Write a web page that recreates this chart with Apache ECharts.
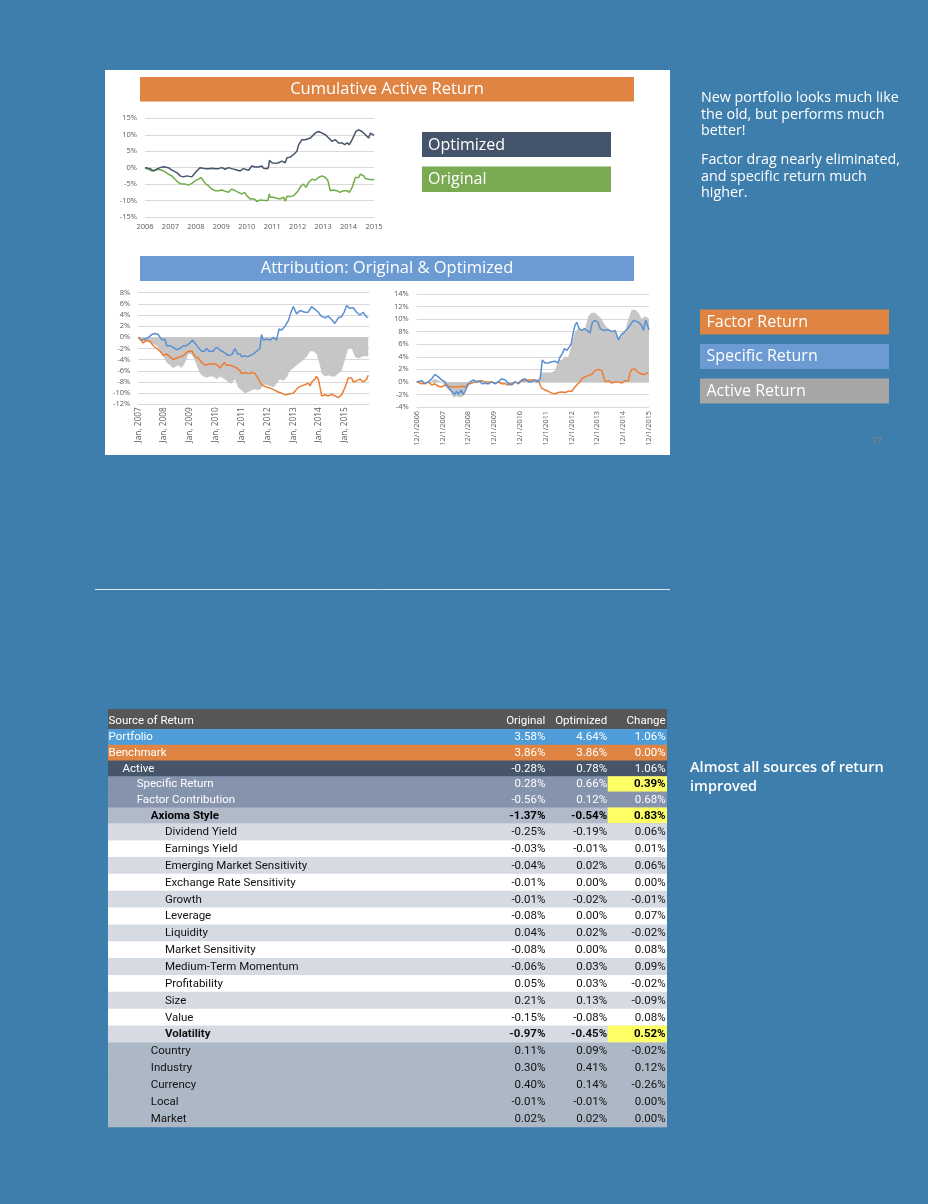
<!DOCTYPE html>
<html><head><meta charset="utf-8">
<script src="https://cdn.jsdelivr.net/npm/echarts/dist/echarts.min.js"></script>
<style>html,body{margin:0;padding:0;background:#3d7ead;}#c{width:928px;height:1204px;}</style>
</head><body><div id="c"></div>
<script>
// ---------- DATA ----------
// Cumulative active return (x = decimal year, y = %)
const cumOptimized = [[2006.00,0],[2006.07,0.3],[2006.20,-0.3],[2006.33,-1],[2006.46,-0.5],[2006.59,0],[2006.72,0.3],[2006.79,0],[2006.92,0],[2007.01,-0.5],[2007.12,-1],[2007.25,-1.5],[2007.38,-2.5],[2007.51,-2.8],[2007.64,-2.5],[2007.71,-2.3],[2007.84,-2.8],[2007.90,-2.5],[2008.03,-1],[2008.17,0],[2008.36,-0.3],[2008.49,-0.3],[2008.62,-0.2],[2008.76,-0.3],[2008.89,-0.3],[2009.02,0],[2009.15,-0.5],[2009.28,0],[2009.41,-0.3],[2009.61,-0.7],[2009.74,-1],[2009.87,-0.3],[2009.94,-0.5],[2010.07,-0.8],[2010.20,0.5],[2010.33,0.2],[2010.46,0.2],[2010.59,0.5],[2010.66,-0.2],[2010.72,-0.5],[2010.82,-0.3],[2010.86,0.5],[2010.89,2.2],[2010.99,1.5],[2011.12,1.3],[2011.25,1.5],[2011.38,2],[2011.51,1.5],[2011.58,3],[2011.71,3.2],[2011.84,4],[2011.97,5],[2012.04,7],[2012.17,8.5],[2012.30,8.5],[2012.36,9],[2012.50,9],[2012.56,8.5],[2012.69,10.5],[2012.82,11],[2012.96,10.5],[2013.09,10],[2013.22,9],[2013.35,8],[2013.48,8.5],[2013.61,7.5],[2013.74,7.5],[2013.85,7],[2013.94,7.5],[2014.03,7],[2014.14,8.5],[2014.20,9.5],[2014.29,11],[2014.40,11.5],[2014.53,11],[2014.66,10],[2014.79,9],[2014.86,10.5],[2014.92,10.3],[2015.00,9.8]];
const cumOriginal = [[2006.00,0],[2006.13,-0.5],[2006.26,-1],[2006.39,-0.8],[2006.52,-0.5],[2006.66,-0.8],[2006.79,-1.3],[2006.92,-2],[2007.05,-2.5],[2007.18,-3.5],[2007.31,-4.5],[2007.44,-5],[2007.51,-5.3],[2007.57,-5],[2007.71,-5.3],[2007.84,-4.8],[2007.97,-4],[2008.10,-3.5],[2008.20,-3],[2008.30,-4],[2008.39,-5],[2008.49,-5.5],[2008.62,-6.5],[2008.76,-7],[2008.89,-7],[2008.95,-7.5],[2009.02,-6.8],[2009.15,-7.2],[2009.28,-7.5],[2009.41,-6.5],[2009.48,-6],[2009.54,-7],[2009.67,-7.5],[2009.81,-8],[2009.91,-7.5],[2010.00,-8.5],[2010.13,-9.5],[2010.20,-10],[2010.30,-9.5],[2010.40,-10.3],[2010.53,-9.8],[2010.59,-9.5],[2010.72,-10],[2010.83,-10],[2010.88,-8],[2010.92,-9],[2011.05,-9],[2011.18,-9.3],[2011.31,-9.5],[2011.45,-9],[2011.51,-10.2],[2011.58,-8.7],[2011.71,-8.8],[2011.84,-8.5],[2011.97,-7.5],[2012.04,-7],[2012.14,-5.5],[2012.23,-5],[2012.33,-6],[2012.43,-4.5],[2012.56,-3.5],[2012.69,-3.8],[2012.82,-3],[2012.96,-2.5],[2013.09,-3],[2013.19,-4],[2013.28,-7],[2013.41,-6.8],[2013.54,-7],[2013.67,-7.5],[2013.81,-7],[2013.94,-7],[2014.03,-7.5],[2014.14,-6],[2014.20,-5.5],[2014.27,-3],[2014.40,-3],[2014.46,-2],[2014.60,-2.5],[2014.66,-3.3],[2014.79,-3.5],[2014.86,-4],[2014.96,-3.7],[2015.00,-3.5]];
const cumYTicks = [-15, -10, -5, 0, 5, 10, 15];
const cumYears = [2006, 2015];

// Attribution, original portfolio (x = decimal year from Jan 2007, y = %)
const origSpecific = [[2007.00,0],[2007.06,0],[2007.13,-0.5],[2007.26,-0.3],[2007.39,0],[2007.52,0.5],[2007.65,0.7],[2007.77,0.5],[2007.84,0],[2007.93,-0.5],[2008.03,-0.3],[2008.10,-1.5],[2008.23,-1.5],[2008.35,-1.8],[2008.48,-2.2],[2008.61,-2],[2008.74,-1.5],[2008.87,-1.5],[2009.00,-1],[2009.09,-0.5],[2009.19,-1],[2009.32,-1.8],[2009.45,-2.5],[2009.55,-2.5],[2009.65,-2],[2009.74,-2.5],[2009.81,-2.2],[2009.90,-2.5],[2009.97,-2],[2010.07,-1.8],[2010.16,-2.3],[2010.25,-2.5],[2010.35,-2.8],[2010.46,-3.2],[2010.55,-3.2],[2010.64,-3],[2010.74,-2],[2010.85,-3],[2010.94,-3],[2011.00,-3.5],[2011.13,-3.3],[2011.23,-3.5],[2011.35,-3.2],[2011.45,-3],[2011.58,-2.5],[2011.65,-2.3],[2011.71,-2],[2011.77,0.5],[2011.84,-0.5],[2011.97,-0.3],[2012.10,-0.5],[2012.23,0],[2012.29,0],[2012.35,-0.5],[2012.45,1.5],[2012.55,1.3],[2012.68,2],[2012.81,3],[2012.91,4.5],[2013.00,5.5],[2013.13,4.2],[2013.26,4.8],[2013.32,4.5],[2013.45,4.5],[2013.58,4.5],[2013.71,5.5],[2013.84,5],[2013.97,4.5],[2014.08,3.8],[2014.23,3.5],[2014.35,3.8],[2014.48,3.2],[2014.61,2.5],[2014.74,3.5],[2014.87,3.7],[2014.97,4.5],[2015.06,5.7],[2015.19,5.2],[2015.32,5.3],[2015.45,4.5],[2015.58,4],[2015.65,3.7],[2015.71,4.5],[2015.77,4],[2015.88,3.5]];
const origFactor = [[2007.00,0],[2007.06,-0.3],[2007.19,-1],[2007.32,-0.5],[2007.45,-0.7],[2007.58,-1.5],[2007.71,-2],[2007.84,-2.5],[2007.97,-3.2],[2008.10,-3],[2008.23,-3.5],[2008.35,-4],[2008.48,-3.7],[2008.61,-3.5],[2008.74,-3.3],[2008.87,-2.7],[2008.96,-2.5],[2009.09,-2.5],[2009.19,-3.5],[2009.32,-3.7],[2009.45,-4.5],[2009.58,-5],[2009.71,-4.8],[2009.84,-4.8],[2009.97,-4.8],[2010.07,-5],[2010.16,-5.5],[2010.23,-5.7],[2010.33,-4.5],[2010.42,-5],[2010.55,-5],[2010.68,-5.2],[2010.81,-5.5],[2010.94,-6],[2011.00,-6.5],[2011.13,-6.3],[2011.26,-6.5],[2011.39,-6.3],[2011.52,-6.5],[2011.65,-7.5],[2011.77,-8.5],[2011.90,-8.8],[2012.03,-9],[2012.16,-9.2],[2012.29,-9.5],[2012.42,-9.8],[2012.55,-10],[2012.68,-10.3],[2012.81,-10.2],[2012.87,-10.4],[2013.00,-10],[2013.06,-10.3],[2013.19,-9],[2013.32,-8.7],[2013.45,-8.5],[2013.58,-8.2],[2013.65,-8.7],[2013.71,-8],[2013.84,-7.5],[2013.90,-7],[2013.97,-7.5],[2014.10,-10.5],[2014.23,-10.3],[2014.35,-10.5],[2014.48,-10.2],[2014.61,-10.5],[2014.74,-10.8],[2014.81,-11],[2014.87,-10.3],[2015.00,-9],[2015.13,-7.3],[2015.26,-7.3],[2015.32,-8],[2015.45,-7.8],[2015.58,-7.5],[2015.71,-8],[2015.84,-7.5],[2015.90,-6.8]];
const origActive = [[2007.00,0],[2007.13,-0.5],[2007.32,-0.8],[2007.52,-1],[2007.71,-1.5],[2007.84,-2.5],[2007.97,-3.5],[2008.10,-4.5],[2008.23,-5],[2008.35,-5.5],[2008.42,-5.3],[2008.55,-5],[2008.68,-5.5],[2008.81,-4.5],[2008.94,-3],[2009.04,-3],[2009.13,-3.5],[2009.26,-5],[2009.39,-6.5],[2009.52,-7],[2009.65,-7.2],[2009.77,-7],[2009.90,-7],[2010.03,-7.5],[2010.16,-7],[2010.23,-6.8],[2010.35,-7.5],[2010.48,-8],[2010.61,-8.3],[2010.74,-7.5],[2010.87,-9],[2011.00,-9.5],[2011.13,-10],[2011.26,-9.8],[2011.39,-9.5],[2011.52,-9.3],[2011.65,-9.5],[2011.75,-9.2],[2011.84,-8.5],[2011.97,-8.5],[2012.10,-8.7],[2012.23,-9],[2012.35,-8.3],[2012.48,-7.5],[2012.61,-7.8],[2012.74,-7.2],[2012.87,-6],[2013.00,-5.5],[2013.13,-5],[2013.26,-4.5],[2013.39,-4],[2013.52,-3.5],[2013.65,-2.5],[2013.77,-2.5],[2013.90,-3],[2014.03,-5],[2014.10,-6.5],[2014.23,-7],[2014.35,-6.8],[2014.48,-7],[2014.61,-7],[2014.74,-6.5],[2014.87,-6],[2015.00,-4],[2015.13,-2],[2015.26,-2],[2015.39,-3.5],[2015.52,-3.8],[2015.65,-3.5],[2015.77,-3.3],[2015.90,-3.5]];
const origYTicks = [-12, -10, -8, -6, -4, -2, 0, 2, 4, 6, 8];
const origYears = [2007, 2015.95];
const origXLabels = [2007, 2008, 2009, 2010, 2011, 2012, 2013, 2014, 2015];

// Attribution, optimized portfolio (x = months since 12/1/2006, y = %)
const optSpecific = [[0,0],[0.8,0.3],[2.3,0.2],[3.9,-0.3],[5.4,0],[7.0,0.5],[8.5,1.2],[10.1,0.8],[11.6,0.3],[13.2,0],[14.0,-0.5],[15.0,-1],[16.3,-1.5],[17.5,-2],[18.6,-1.5],[19.4,-2],[20.6,-1.3],[21.7,-2],[22.5,-1.5],[23.7,-0.5],[24.8,0],[26.4,0.3],[27.9,0],[29.5,0.2],[30.2,-0.3],[31.8,-0.2],[33.3,-0.3],[34.9,0],[36.4,-0.3],[38.0,0],[39.5,0.5],[41.1,0.3],[42.6,-0.2],[44.2,-0.5],[45.7,0],[47.3,-0.2],[48.8,0.3],[50.4,0.5],[51.9,0],[53.5,0],[54.7,0.3],[55.8,0],[57.4,0.5],[58.4,3.5],[59.7,3],[61.2,3],[62.8,3.2],[63.6,3.5],[64.3,3.3],[65.6,3],[66.7,4],[67.7,4.5],[68.7,5.3],[69.8,5],[70.8,5.5],[71.8,6],[72.9,8],[73.6,9],[74.4,9.5],[75.5,8.5],[76.7,8.2],[78.0,8.5],[79.1,8.2],[79.8,8.5],[80.6,7.8],[81.7,9.5],[82.9,9.8],[84.2,9.5],[85.3,8.5],[86.8,8.2],[87.6,8.5],[89.1,8.3],[90.7,8],[92.2,8.2],[93.0,7.5],[93.8,6.7],[95.0,7.5],[96.1,7.8],[96.9,7.5],[98.1,8.5],[99.2,9],[100.8,9.8],[101.5,9.5],[103.1,9.5],[104.6,9],[105.4,8.2],[106.5,9.8],[107.4,9.5],[108.0,8.3]];
const optFactor = [[0,0],[0.8,0],[2.3,-0.3],[3.9,-0.2],[5.4,0],[7.0,-0.5],[8.5,-0.3],[10.1,-0.7],[11.6,-0.8],[13.2,-0.5],[14.7,-0.7],[16.3,-0.8],[17.8,-0.8],[19.4,-0.8],[20.9,-0.7],[22.5,-0.8],[24.0,-0.3],[25.6,-0.2],[27.1,0],[28.7,0],[30.2,0.2],[31.8,0],[33.3,0],[34.9,0],[36.4,-0.2],[38.0,0],[39.5,-0.3],[41.1,-0.3],[42.6,-0.5],[44.2,-0.3],[45.7,0],[47.3,-0.3],[48.8,0.2],[50.4,0.2],[51.9,0.3],[53.5,0.3],[55.0,0.3],[56.6,0.2],[57.4,-0.5],[58.1,-1],[59.7,-1.3],[61.2,-1.5],[62.8,-1.8],[64.3,-1.9],[65.9,-1.7],[67.4,-1.6],[69.0,-1.7],[70.5,-1.5],[72.1,-1.5],[73.6,-0.8],[74.9,-0.3],[76.0,0],[76.7,0.5],[78.3,0.8],[79.8,1],[81.4,1.2],[82.9,1.8],[84.5,2],[86.0,1.8],[86.8,1],[87.6,0],[88.4,-0.2],[89.1,0.2],[90.7,-0.2],[92.2,0],[93.8,0],[95.3,-0.2],[96.1,-0.5],[96.9,0.2],[98.4,0.2],[99.2,1.5],[100.0,2],[101.5,2],[103.1,1.5],[104.6,1.2],[106.2,1.2],[107.0,1.3],[107.7,1.5]];
const optActive = [[0,0],[2.3,0.2],[5.4,-0.2],[8.5,0.5],[11.6,0],[14.0,-1],[15.5,-1.5],[17.1,-2.5],[18.6,-2.3],[20.2,-2.5],[21.7,-2.3],[23.3,-1],[25.6,0],[28.7,0.3],[31.8,0],[34.9,0],[38.0,-0.2],[41.1,0],[44.2,-0.3],[47.3,0],[50.4,0.5],[53.5,0.3],[56.6,0.2],[57.4,0.5],[58.1,1.5],[59.7,1.5],[61.2,1.5],[62.8,1.5],[64.3,1.8],[65.9,3.5],[67.4,3.5],[69.0,4],[70.5,4],[72.1,6],[73.6,8],[75.2,8.5],[76.7,8.2],[78.3,8.5],[79.8,10.5],[81.4,11],[82.9,11],[84.5,10.5],[86.0,10],[87.6,9],[89.1,8.5],[90.7,8],[92.2,8],[93.8,7],[95.3,7.5],[96.9,8],[98.4,10],[100.0,11.5],[101.5,11.5],[103.1,11],[104.6,10],[106.2,10.5],[107.0,10.5],[108.0,10]];
const optYTicks = [-4, -2, 0, 2, 4, 6, 8, 10, 12, 14];
const optMonths = [0, 108];

// Table
const tableHeader = ['Source of Return', 'Original', 'Optimized', 'Change'];
const tableRows = ['Portfolio','Benchmark','Active','Specific Return','Factor Contribution','Axioma Style','Dividend Yield','Earnings Yield','Emerging Market Sensitivity','Exchange Rate Sensitivity','Growth','Leverage','Liquidity','Market Sensitivity','Medium-Term Momentum','Profitability','Size','Value','Volatility','Country','Industry','Currency','Local','Market'];
const originalVals  = [3.58,3.86,-0.28,0.28,-0.56,-1.37,-0.25,-0.03,-0.04,-0.01,-0.01,-0.08,0.04,-0.08,-0.06,0.05,0.21,-0.15,-0.97,0.11,0.30,0.40,-0.01,0.02];
const optimizedVals = [4.64,3.86,0.78,0.66,0.12,-0.54,-0.19,-0.01,0.02,0.00,-0.02,0.00,0.02,0.00,0.03,0.03,0.13,-0.08,-0.45,0.09,0.41,0.14,-0.01,0.02];
const changeVals    = [1.06,0.00,1.06,0.39,0.68,0.83,0.06,0.01,0.06,0.00,-0.01,0.07,-0.02,0.08,0.09,-0.02,-0.09,0.08,0.52,-0.02,0.12,-0.26,0.00,0.00];
const rowLevels = [0,0,1,2,2,3,4,4,4,4,4,4,4,4,4,4,4,4,4,3,3,3,3,3];
const rowGroups = ['portfolio','benchmark','active','activePart','activePart','styleGroup','styleFactor','styleFactor','styleFactor','styleFactor','styleFactor','styleFactor','styleFactor','styleFactor','styleFactor','styleFactor','styleFactor','styleFactor','styleFactor','otherFactor','otherFactor','otherFactor','otherFactor','otherFactor'];
const highlightRows = ['Specific Return','Axioma Style','Volatility'];
const boldRows = ['Axioma Style','Volatility'];

// ---------- STYLE / LAYOUT ----------
const FONT = 'Open Sans';
const TFONT = 'Roboto';
const TFS = 11.5;
const groupStyle = {
  portfolio:{bg:'#4e9dd8', fg:'#ffffff'},
  benchmark:{bg:'#df8443', fg:'#ffffff'},
  active:{bg:'#465569', fg:'#ffffff'},
  activePart:{bg:'#8593ad', fg:'#ffffff'},
  styleGroup:{bg:'#b1bac9', fg:'#000000'},
  styleFactorA:{bg:'#d6dbe3', fg:'#111111'},
  styleFactorB:{bg:'#ffffff', fg:'#111111'},
  otherFactor:{bg:'#adb8c7', fg:'#111111'}
};
const firstStyleFactor = rowGroups.indexOf('styleFactor');
function rowStyle(r) {
  const g = rowGroups[r];
  if (g === 'styleFactor') return (r - firstStyleFactor) % 2 === 0 ? groupStyle.styleFactorA : groupStyle.styleFactorB;
  return groupStyle[g];
}
const COL_RIGHT = [0.7825, 0.893, 0.9975];
const COL_HL = [0.894, 1.0];
const LABEL_X0 = 0.5, INDENT = 14.1;
const fmtPct = v => v.toFixed(2) + '%';

function txt(x, y, text, align, fill, weight, size, family) {
  return {type:'text', x:x, y:y, style:{text:text, fill:fill, fontSize:size||TFS, fontFamily:family||TFONT, fontWeight:weight||'normal',
    align:align, verticalAlign:'middle', textAlign:align, textVerticalAlign:'middle'}};
}

function cellRender(offset) {
  return function (params, api) {
    const k = api.value(1);
    const r = offset + k;
    const c = api.coord([0, k]);
    const s = api.size([1, 1]);
    const W = s[0], H = s[1];
    const x0 = c[0], y0 = c[1] - H / 2, yc = c[1] + 0.5;
    const st = rowStyle(r);
    const name = tableRows[r];
    const weight = boldRows.includes(name) ? 'bold' : 'normal';
    const kids = [{type:'rect', shape:{x:x0, y:y0, width:W, height:H + 0.6}, style:{fill:st.bg}}];
    const hl = highlightRows.includes(name);
    if (hl) kids.push({type:'rect', shape:{x:x0 + W * COL_HL[0], y:y0, width:W * (COL_HL[1] - COL_HL[0]), height:H}, style:{fill:'#ffff66'}});
    kids.push(txt(x0 + LABEL_X0 + rowLevels[r] * INDENT, yc, name, 'left', st.fg, weight));
    [originalVals, optimizedVals, changeVals].forEach(function (arr, j) {
      const isHl = hl && j === 2;
      kids.push(txt(x0 + W * COL_RIGHT[j], yc, fmtPct(arr[r]), 'right', isHl ? '#000000' : st.fg, isHl ? 'bold' : weight));
    });
    return {type:'group', children:kids};
  };
}
function headerRender(params, api) {
  const c = api.coord([0, 0]);
  const s = api.size([1, 1]);
  const W = s[0], H = s[1];
  const x0 = c[0], y0 = c[1] - H / 2, yb = y0 + H - 7.5;
  const kids = [{type:'rect', shape:{x:x0, y:y0, width:W, height:H + 0.5}, style:{fill:'#565656'}}];
  kids.push(txt(x0 + LABEL_X0, yb, tableHeader[0], 'left', '#ffffff'));
  for (let j = 1; j < 4; j++) kids.push(txt(x0 + W * COL_RIGHT[j - 1], yb, tableHeader[j], 'right', '#ffffff'));
  return {type:'group', children:kids};
}

const tickLabel = {color:'#595959', fontFamily:FONT, fontSize:7.5};
const splitL = {show:true, lineStyle:{color:'#d9d9d9', width:1}};
function valueY(grid, ticks) {
  return {type:'value', gridIndex:grid, min:ticks[0], max:ticks[ticks.length - 1], interval:ticks[1] - ticks[0],
    axisLine:{show:false}, axisTick:{show:false}, splitLine:splitL,
    axisLabel:Object.assign({formatter:'{value}%', margin:8}, tickLabel)};
}
function lineS(grid, data, color, z) {
  return {type:'line', xAxisIndex:grid, yAxisIndex:grid, data:data, showSymbol:false, symbol:'none',
    lineStyle:{color:color, width:1.5}, itemStyle:{color:color}, z:z||3, silent:true};
}
function areaS(grid, data) {
  return {type:'line', xAxisIndex:grid, yAxisIndex:grid, data:data, showSymbol:false, symbol:'none',
    lineStyle:{width:0, color:'#c6c6c6'}, areaStyle:{color:'#c6c6c6', opacity:1, origin:'auto'}, z:2, silent:true};
}

const hiddenX = g => ({type:'value', gridIndex:g, min:0, max:1, show:false});
const hiddenY = (g, names) => ({type:'category', gridIndex:g, data:names, inverse:true, show:false});
const idx = n => Array.from({length:n}, (_, k) => [0, k]);

const W = '#ffffff';
function gText(x, y, text, size, opt) {
  return Object.assign({type:'text', x:x, y:y, z:10, style:Object.assign({text:text, fill:W, fontFamily:FONT, fontSize:size,
    align:'left', verticalAlign:'middle', textAlign:'left', textVerticalAlign:'middle'}, opt || {})});
}
function gRect(x, y, w, h, fill, z) {
  return {type:'rect', z:z === undefined ? 5 : z, shape:{x:x, y:y, width:w, height:h}, style:{fill:fill}};
}

const option = {
  animation:false,
  backgroundColor:'#3d7ead',
  grid:[
    {left:145, top:118.3, width:229, height:98.7},
    {left:138.3, top:292.7, width:231.2, height:111.6},
    {left:416.7, top:294, width:232.3, height:113},
    {left:108, top:709, width:559, height:20},
    {left:108, top:729, width:559, height:94.3},
    {left:108, top:823.3, width:559, height:303.4}
  ],
  xAxis:[
    {type:'value', gridIndex:0, min:cumYears[0], max:cumYears[1], interval:1, axisLine:{show:false}, axisTick:{show:false}, splitLine:{show:false},
      axisLabel:Object.assign({margin:6, formatter:v => String(v)}, tickLabel)},
    {type:'value', gridIndex:1, z:50, min:origYears[0], max:origYears[1], axisLine:{show:false}, axisTick:{show:false}, splitLine:{show:false},
      axisLabel:Object.assign({margin:3, rotate:90, hideOverlap:false, showMaxLabel:true, customValues:origXLabels,
        formatter:v => 'Jan, ' + v}, tickLabel, {fontSize:8.3})},
    {type:'value', gridIndex:2, min:optMonths[0], max:optMonths[1], interval:12, axisLine:{show:false}, axisTick:{show:false}, splitLine:{show:false},
      axisLabel:Object.assign({margin:4, rotate:90, hideOverlap:false, formatter:v => '12/1/' + (2006 + v / 12)}, tickLabel, {fontSize:7.3})},
    hiddenX(3), hiddenX(4), hiddenX(5)
  ],
  yAxis:[
    valueY(0, cumYTicks), valueY(1, origYTicks), valueY(2, optYTicks),
    hiddenY(3, ['header']), hiddenY(4, tableRows.slice(0, 6)), hiddenY(5, tableRows.slice(6))
  ],
  series:[
    lineS(0, cumOriginal, '#70ad47'),
    lineS(0, cumOptimized, '#44546a', 4),
    areaS(1, origActive),
    lineS(1, origSpecific, '#5b8fd3'),
    lineS(1, origFactor, '#ed7d31', 4),
    areaS(2, optActive),
    lineS(2, optFactor, '#ed7d31'),
    lineS(2, optSpecific, '#5b8fd3', 4),
    {type:'custom', xAxisIndex:3, yAxisIndex:3, data:idx(1), renderItem:headerRender, silent:true},
    {type:'custom', xAxisIndex:4, yAxisIndex:4, data:idx(6), renderItem:cellRender(0), silent:true},
    {type:'custom', xAxisIndex:5, yAxisIndex:5, data:idx(18), renderItem:cellRender(6), silent:true}
  ],
  graphic:[
    gRect(105, 70, 565, 385, '#ffffff', -100),
    gRect(140, 77, 494, 24.5, '#df8443'),
    gText(387, 89.5, 'Cumulative Active Return', 16.5, {align:'center', textAlign:'center'}),
    gRect(422, 132, 189, 25, '#44546a'),
    gText(428, 145, 'Optimized', 16),
    gRect(422, 166.5, 189, 25.5, '#7aab52'),
    gText(428, 179.5, 'Original', 16),
    gRect(140, 256, 494, 25, '#6b9bd2'),
    gText(387, 268.5, 'Attribution: Original & Optimized', 16.5, {align:'center', textAlign:'center'}),
    gText(701, 89.8, 'New portfolio looks much like\nthe old, but performs much\nbetter!', 14.3, {verticalAlign:'top', textVerticalAlign:'top', lineHeight:16.6}),
    gText(701, 151.6, 'Factor drag nearly eliminated,\nand specific return much\nhigher.', 14.3, {verticalAlign:'top', textVerticalAlign:'top', lineHeight:16.6}),
    gRect(700, 309.5, 189, 25, '#df8443'),
    gText(706.5, 322, 'Factor Return', 16),
    gRect(700, 344, 189, 25, '#6b9bd2'),
    gText(706.5, 356.8, 'Specific Return', 16),
    gRect(700, 378.5, 189, 25, '#a6a6a6'),
    gText(706.5, 391, 'Active Return', 16),
    gText(877, 441.5, '17', 9, {fill:'#8c827b', align:'center', textAlign:'center'}),
    {type:'line', z:5, shape:{x1:95, y1:589.5, x2:670, y2:589.5}, style:{stroke:'#dfe6ee', lineWidth:1}},
    gText(690, 758.8, 'Almost all sources of return\nimproved', 14.5, {fontWeight:600, verticalAlign:'top', textVerticalAlign:'top', lineHeight:19})
  ]
};
const chart = echarts.init(document.getElementById('c'), null, {renderer:'canvas'});
chart.setOption(option);
</script></body></html>
